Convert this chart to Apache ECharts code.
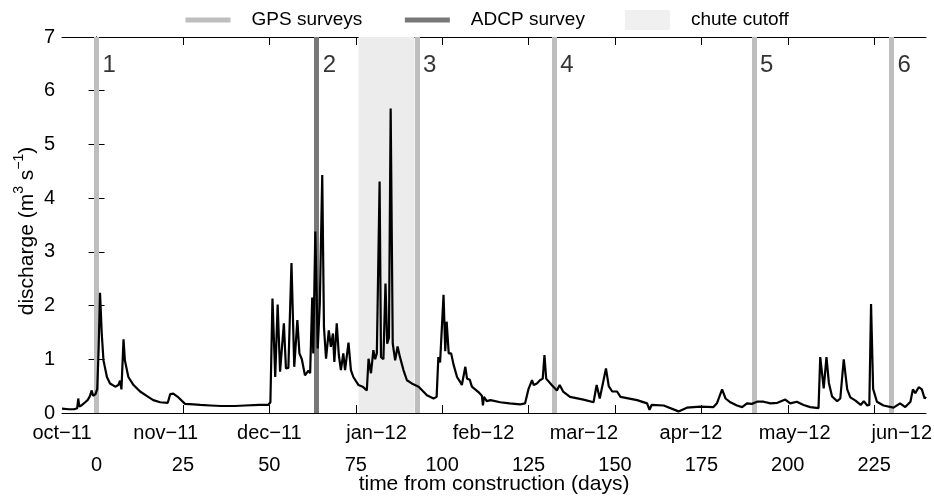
<!DOCTYPE html>
<html>
<head>
<meta charset="utf-8">
<script src="https://cdn.jsdelivr.net/npm/echarts@6/dist/echarts.min.js"></script>
<style>
  html, body { margin: 0; padding: 0; background: #ffffff; }
  #chart { width: 934px; height: 497px; }
</style>
</head>
<body>
<div id="chart"></div>
<script>
// Stream discharge (m3/s) against time from construction (days)
const days = [
  -10, -9.5, -8, -6.5, -5.6, -5.3, -5.0, -4.2, -3.3, -2.6, -2.2, -1.9, -1.4, -1.0, -0.3,
  0.2, 0.6, 1.0, 1.5, 2.0, 3.0, 3.9, 5.4, 6.3, 6.8, 7.2, 7.8, 8.2, 9.2, 10.7, 12.6, 14.5,
  16.4, 18.4, 20.6, 21.3, 22.2, 23.7, 25.6, 28, 30, 33, 36, 40, 43, 47, 49.7, 50.3,
  50.9, 51.7, 52.4, 53.1, 54.2, 54.8, 55.5, 56.4, 57.2, 58.1, 58.7, 59.4, 60.3, 61.3, 61.8,
  62.4, 62.7, 63.3, 64.0, 64.6, 65.3, 65.8, 66.4, 67.2, 67.8, 68.4, 68.8, 69.5, 70.1, 70.7,
  71.4, 71.9, 72.9, 73.6, 74.3, 75.8, 77.0, 78.2, 78.7, 79.4, 80.1, 80.6, 81.1, 81.9, 82.3,
  83.0, 83.6, 84.1, 84.6, 85.1, 85.7, 86.4, 87.1, 87.8, 88.8, 89.8, 91.2, 93.2, 95.6, 97.5,
  98.4, 98.9, 99.4, 100.4, 100.9, 101.3, 101.9, 102.6, 103.3, 104.3, 105.2, 105.7, 106.7,
  107.2, 108.0, 108.6, 110.5, 111.5, 111.8, 112.1, 112.9, 114, 116.8, 119.5, 122.6, 124,
  125, 126, 126.5, 127.4, 128.3, 129.1, 129.6, 130.1, 131.7, 133.2, 134, 135, 137, 140.9,
  143.8, 144.7, 145.6, 147.4, 148.2, 149.2, 150.6, 151.6, 156.4, 159.3, 160, 160.6, 164.1,
  168.4, 170.8, 174.7, 178.5, 179.5, 181, 182, 183.4, 185.3, 186.8, 188.2, 189.6, 191.1,
  193, 195, 197, 199.3, 200.7, 202.6, 204.6, 206.5, 208.9, 209.4, 210.4, 211.2, 211.9,
  212.8, 214.3, 215.2, 216.2, 217.2, 218.1, 219.6, 221.1, 222, 223, 223.6, 224.1, 224.7,
  225.8, 227.7, 230.6, 232.5, 234, 235.5, 236.2, 236.9, 237.9, 238.8, 239.6, 240
];
const discharge = [
  0.08, 0.08, 0.07, 0.07, 0.09, 0.27, 0.12, 0.15, 0.2, 0.24, 0.28, 0.32, 0.42, 0.32, 0.35,
  0.45, 1.2, 2.24, 1.48, 0.98, 0.67, 0.55, 0.49, 0.52, 0.6, 0.44, 1.37, 0.98, 0.67, 0.52, 0.4, 0.32,
  0.24, 0.2, 0.19, 0.35, 0.36, 0.29, 0.17, 0.16, 0.15, 0.14, 0.13, 0.13, 0.14, 0.15, 0.15, 0.2,
  2.13, 0.67, 2.02, 0.77, 1.67, 0.83, 0.84, 2.79, 0.86, 1.73, 1.11, 1.0, 0.70, 0.79, 0.74,
  2.15, 1.11, 3.38, 1.2, 2.04, 4.43, 1.6, 1.01, 1.54, 1.23, 1.48, 0.95, 1.67, 1.08, 0.8,
  1.11, 0.8, 1.31, 0.8, 0.67, 0.52, 0.49, 0.42, 1.01, 0.74, 1.17, 1.0, 1.11, 4.31, 1.04,
  1.0, 2.41, 1.29, 1.4, 5.67, 1.29, 0.98, 1.24, 1.04, 0.8, 0.61, 0.55, 0.49, 0.33, 0.27,
  0.3, 1.04, 0.94, 2.2, 1.15, 1.7, 1.11, 1.11, 0.9, 0.67, 0.58, 0.52, 0.86,
  0.64, 0.62, 0.49, 0.39, 0.32, 0.14, 0.3, 0.22, 0.24, 0.2, 0.18, 0.16, 0.18,
  0.45, 0.61, 0.52, 0.55, 0.61, 0.64, 1.08, 0.64, 0.52, 0.42, 0.52, 0.4, 0.3, 0.25,
  0.2, 0.52, 0.27, 0.83, 0.5, 0.4, 0.4, 0.3, 0.24, 0.18, 0.06, 0.15, 0.14,
  0.03, 0.1, 0.12, 0.11, 0.18, 0.44, 0.27, 0.2, 0.14, 0.11, 0.18, 0.17, 0.21,
  0.21, 0.18, 0.19, 0.25, 0.18, 0.21, 0.15, 0.11, 0.09, 1.04, 0.46, 1.04, 0.56,
  0.31, 0.22, 0.27, 1.0, 0.44, 0.29, 0.23, 0.15, 0.22, 0.14, 0.15, 2.03, 0.45,
  0.21, 0.14, 0.1, 0.18, 0.11, 0.21, 0.44, 0.37, 0.48, 0.44, 0.27, 0.3
];

// Survey dates (days from construction) and their numbers
const gpsSurveyDays = [0, 92.7, 132.4, 190.2, 230];
const adcpSurveyDays = [63.7];
const surveyDays = [0, 63.7, 92.7, 132.4, 190.2, 230];
const surveyNumbers = ['1', '2', '3', '4', '5', '6'];

// Chute cutoff period
const chuteCutoff = [75.8, 92];

// Axis ticks
const dayTicks = [0, 25, 50, 75, 100, 125, 150, 175, 200, 225];
const monthStartDays = [-11, 20, 50, 81, 112, 141, 172, 202, 233];
const monthLabels = ['oct\u221211', 'nov\u221211', 'dec\u221211', 'jan\u221212', 'feb\u221212',
                     'mar\u221212', 'apr\u221212', 'may\u221212', 'jun\u221212'];

const X_MIN = -10, X_MAX = 240;
const FONT = 'Liberation Sans, Arial, Helvetica, sans-serif';
const TICK_SIZE = 20;
const TITLE_SIZE = 21;

// the first month starts just before the plotted range; pin its label to the axis start
const monthPositions = monthStartDays.map(d => Math.max(d, X_MIN));
const monthNameAt = {};
monthPositions.forEach((d, i) => { monthNameAt[d] = monthLabels[i]; });

const chart = echarts.init(document.getElementById('chart'), null, { renderer: 'canvas' });

const baseX = {
  type: 'value', min: X_MIN, max: X_MAX, splitLine: { show: false },
  axisLine: { show: true, onZero: false, lineStyle: { color: '#000', width: 1 } }
};

const hiddenSymbol = { color: 'rgba(0,0,0,0)', borderWidth: 0, opacity: 0 };

chart.setOption({
  animation: false,
  backgroundColor: '#ffffff',
  textStyle: { fontFamily: FONT, color: '#000' },
  grid: { left: 62, right: 8, top: 37, bottom: 84, containLabel: false, outerBoundsMode: 'none' },
  legend: {
    left: 178, top: 5,
    itemWidth: 45, itemHeight: 20, itemGap: 40,
    textStyle: { fontFamily: FONT, fontSize: 19, color: '#000', padding: [0, 0, 0, 16] },
    lineStyle: { width: 5 },
    data: [
      { name: 'GPS surveys', itemStyle: hiddenSymbol },
      { name: 'ADCP survey', itemStyle: hiddenSymbol },
      { name: 'chute cutoff', icon: 'rect', itemStyle: { color: '#ececec' } }
    ]
  },
  xAxis: [
    Object.assign({}, baseX, {
      position: 'bottom',
      name: 'time from construction (days)', nameLocation: 'middle', nameGap: 61,
      nameMoveOverlap: false,
      nameTextStyle: { fontFamily: FONT, fontSize: TITLE_SIZE, color: '#000' },
      axisTick: { show: true, inside: true, length: 8, customValues: dayTicks,
                  lineStyle: { color: '#000' } },
      axisLabel: { show: true, customValues: dayTicks, margin: 42,
                   fontFamily: FONT, fontSize: TICK_SIZE, color: '#000' }
    }),
    Object.assign({}, baseX, {
      position: 'bottom',
      axisLine: { show: false },
      axisTick: { show: false },
      axisLabel: { show: true, customValues: monthPositions, margin: 10,
                   fontFamily: FONT, fontSize: TICK_SIZE, color: '#000',
                   formatter: v => monthNameAt[v] || '' }
    }),
    Object.assign({}, baseX, {
      position: 'top',
      axisTick: { show: true, inside: true, length: 8, customValues: dayTicks,
                  lineStyle: { color: '#000' } },
      axisLabel: { show: false }
    })
  ],
  yAxis: [
    {
      type: 'value', min: 0, max: 7, interval: 1, position: 'left',
      name: '{t|discharge (m}{s|3}{t| s}{s|\u22121}{t|)}',
      nameLocation: 'middle', nameGap: 24, nameRotate: 90, nameMoveOverlap: false,
      nameTextStyle: {
        fontFamily: FONT, color: '#000', padding: [0, 12, 0, 0],
        rich: {
          t: { fontFamily: FONT, fontSize: TITLE_SIZE, lineHeight: 26, verticalAlign: 'bottom', color: '#000' },
          s: { fontFamily: FONT, fontSize: 14, lineHeight: 26, verticalAlign: 'top', color: '#000' }
        }
      },
      splitLine: { show: false },
      axisLine: { show: true, lineStyle: { color: '#000', width: 1 } },
      axisTick: { show: true, inside: true, length: 8, lineStyle: { color: '#000' } },
      axisLabel: { margin: 7, fontFamily: FONT, fontSize: TICK_SIZE, color: '#000' }
    },
    {
      type: 'value', min: 0, max: 7, interval: 1, position: 'right',
      splitLine: { show: false },
      axisLine: { show: true, lineStyle: { color: '#000', width: 1 } },
      axisTick: { show: true, inside: true, length: 8, lineStyle: { color: '#000' } },
      axisLabel: { show: false }
    }
  ],
  series: [
    {
      name: 'chute cutoff', type: 'scatter', data: [], z: 1,
      itemStyle: { color: '#ececec' },
      markArea: {
        silent: true,
        itemStyle: { color: '#ececec' },
        data: [[{ xAxis: chuteCutoff[0] }, { xAxis: chuteCutoff[1] }]]
      }
    },
    {
      name: 'GPS surveys', type: 'line', data: [], z: 2, symbol: 'none',
      color: '#bebebe', lineStyle: { color: '#bebebe', width: 5 },
      markLine: {
        silent: true, symbol: 'none', label: { show: false },
        lineStyle: { color: '#bebebe', width: 5, type: 'solid' },
        data: gpsSurveyDays.map(d => ({ xAxis: d }))
      }
    },
    {
      name: 'ADCP survey', type: 'line', data: [], z: 2, symbol: 'none',
      color: '#787878', lineStyle: { color: '#787878', width: 5 },
      markLine: {
        silent: true, symbol: 'none', label: { show: false },
        lineStyle: { color: '#787878', width: 5, type: 'solid' },
        data: adcpSurveyDays.map(d => ({ xAxis: d }))
      }
    },
    {
      name: 'survey number', type: 'scatter', z: 3, symbolSize: 0, silent: true,
      data: surveyDays.map((d, i) => [d, 6.47, surveyNumbers[i]]),
      label: {
        show: true, position: 'right', distance: 6,
        fontFamily: FONT, fontSize: 24, color: '#000',
        formatter: p => p.value[2]
      }
    },
    {
      name: 'discharge', type: 'line', z: 5, symbol: 'none', showSymbol: false,
      lineStyle: { color: '#000', width: 2.2 },
      data: days.map((d, i) => [d, discharge[i]])
    }
  ]
});
</script>
</body>
</html>
